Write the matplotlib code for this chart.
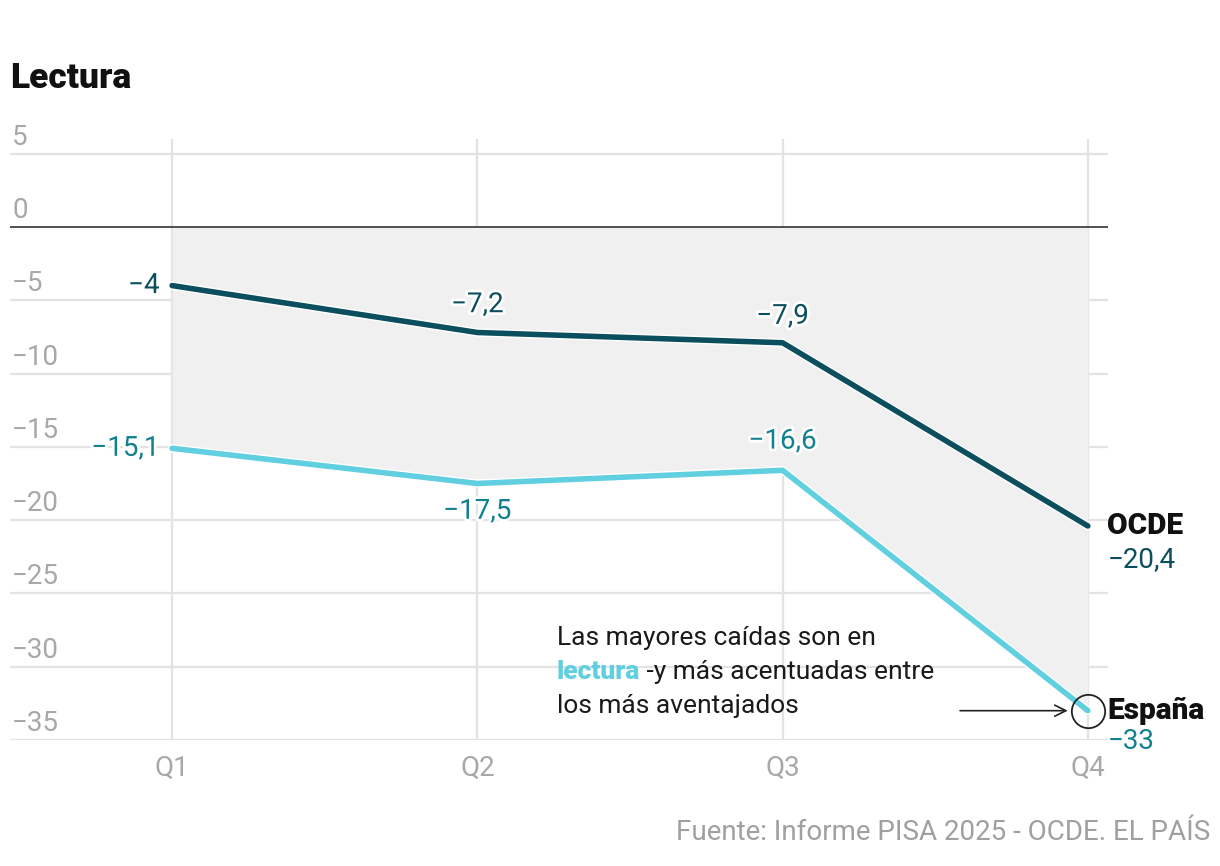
import matplotlib.pyplot as plt
import matplotlib.patheffects as pe

plt.rcParams['font.family'] = ['Roboto', 'DejaVu Sans']

# Datos: variación en lectura por cuartil
trimestres = ["Q1", "Q2", "Q3", "Q4"]
ocde = [-4, -7.2, -7.9, -20.4]
espana = [-15.1, -17.5, -16.6, -33]
marcas_y = [5, 0, -5, -10, -15, -20, -25, -30, -35]

COL_OCDE = '#0b4f5e'
COL_ESP = '#60cfe0'
COL_ESP_TXT = '#11808f'
GRIS = '#a8a8a8'
REJILLA = '#e3e3e3'


def fmt(v):
    return f"{v:g}".replace(".", ",").replace("-", "\u2212")


fig = plt.figure(figsize=(12.2, 8.66), dpi=100)
ax = fig.add_axes([10 / 1220, 126 / 866, 1098 / 1220, 601 / 866])
x = list(range(len(trimestres)))

ax.set_xlim(-0.531, 3.066)
ax.set_ylim(-35, 6)
for s in ax.spines.values():
    s.set_visible(False)

# rejilla
for t in marcas_y:
    if t != 0:
        ax.axhline(t, color=REJILLA, lw=1.6, zorder=0)
ax.vlines(x, -35, 6, color=REJILLA, lw=1.6, zorder=0)

# sombreado y linea cero
ax.fill_between(x, 0, espana, color='#f0f0f0', lw=0, zorder=1)
ax.axhline(0, color='#222222', lw=1.1, zorder=2)

halo_linea = [pe.Stroke(linewidth=6, foreground='white'), pe.Normal()]
ax.plot(x, ocde, color=COL_OCDE, lw=4, solid_capstyle='round',
        path_effects=halo_linea, zorder=3)
ax.plot(x, espana, color=COL_ESP, lw=4, solid_capstyle='round',
        path_effects=halo_linea, zorder=3)

# ejes
ax.set_xticks(x, trimestres)
ax.set_yticks([])
ax.tick_params(axis='x', length=0, pad=11, labelsize=20, labelcolor=GRIS)
for t in marcas_y:
    ax.annotate(fmt(t), xy=(0, t), xycoords=ax.get_yaxis_transform(),
                xytext=(1.5, 6.5), textcoords='offset points',
                ha='left', va='baseline', fontsize=20, color=GRIS)

# etiquetas de valores
halo = [pe.withStroke(linewidth=4, foreground='white')]
off_ocde = [(-9, 0, 'right'), (0, 20, 'center'), (0, 19, 'center')]
off_esp = [(-9, 0, 'right'), (0, -20, 'center'), (0, 21, 'center')]
for i, (dx, dy, ha) in enumerate(off_ocde):
    ax.annotate(fmt(ocde[i]), xy=(x[i], ocde[i]), xytext=(dx, dy),
                textcoords='offset points', ha=ha, va='center',
                fontsize=20, color=COL_OCDE, path_effects=halo, zorder=6)
for i, (dx, dy, ha) in enumerate(off_esp):
    ax.annotate(fmt(espana[i]), xy=(x[i], espana[i]), xytext=(dx, dy),
                textcoords='offset points', ha=ha, va='center',
                fontsize=20, color=COL_ESP_TXT, path_effects=halo, zorder=6)

# etiquetas finales
ax.annotate("OCDE", xy=(x[3], ocde[3]), xytext=(14, 0), textcoords='offset points',
            ha='left', va='center', fontsize=21.5, fontweight='black',
            color='#111111', annotation_clip=False)
ax.annotate(fmt(ocde[3]), xy=(x[3], ocde[3]), xytext=(14, -24), textcoords='offset points',
            ha='left', va='center', fontsize=20, color=COL_OCDE, annotation_clip=False)
ax.annotate("España", xy=(x[3], espana[3]), xytext=(14, 0), textcoords='offset points',
            ha='left', va='center', fontsize=21.5, fontweight='black',
            color='#111111', annotation_clip=False)
ax.annotate(fmt(espana[3]), xy=(x[3], espana[3]), xytext=(14, -22), textcoords='offset points',
            ha='left', va='center', fontsize=20, color=COL_ESP_TXT, annotation_clip=False)

# circulo y flecha
ax.plot(x[3], espana[3], 'o', ms=24, mfc='none', mec='#222222', mew=1.3,
        zorder=7, clip_on=False)
ax.annotate("", xy=(x[3], espana[3]), xytext=(-92, 0), textcoords='offset points',
            arrowprops=dict(arrowstyle='->', color='#222222', lw=1.2,
                            mutation_scale=20, shrinkA=0, shrinkB=14.5))

# texto explicativo
tam = 19
ax.text(1.26, -28.5, "Las mayores caídas son en", fontsize=tam,
        color='#1a1a1a', va='baseline', ha='left')
t2 = ax.text(1.26, -30.83, "lectura", fontsize=tam, fontweight='black',
             color=COL_ESP, va='baseline', ha='left')
ax.annotate(" -y más acentuadas entre", xy=(1, 0), xycoords=t2, fontsize=tam,
            color='#1a1a1a', va='bottom', ha='left')
ax.text(1.26, -33.15, "los más aventajados", fontsize=tam,
        color='#1a1a1a', va='baseline', ha='left')

# titulo y fuente
fig.text(10 / 1220, (866 - 88) / 866, "Lectura", fontsize=25.5, fontweight='black',
         color='#111111', va='baseline', ha='left')
fig.text(1210 / 1220, (866 - 833) / 866, "Fuente: Informe PISA 2025 - OCDE. EL PAÍS",
         fontsize=20, color='#a0a0a0', va='center', ha='right')

fig.savefig("out.png", dpi=100)
